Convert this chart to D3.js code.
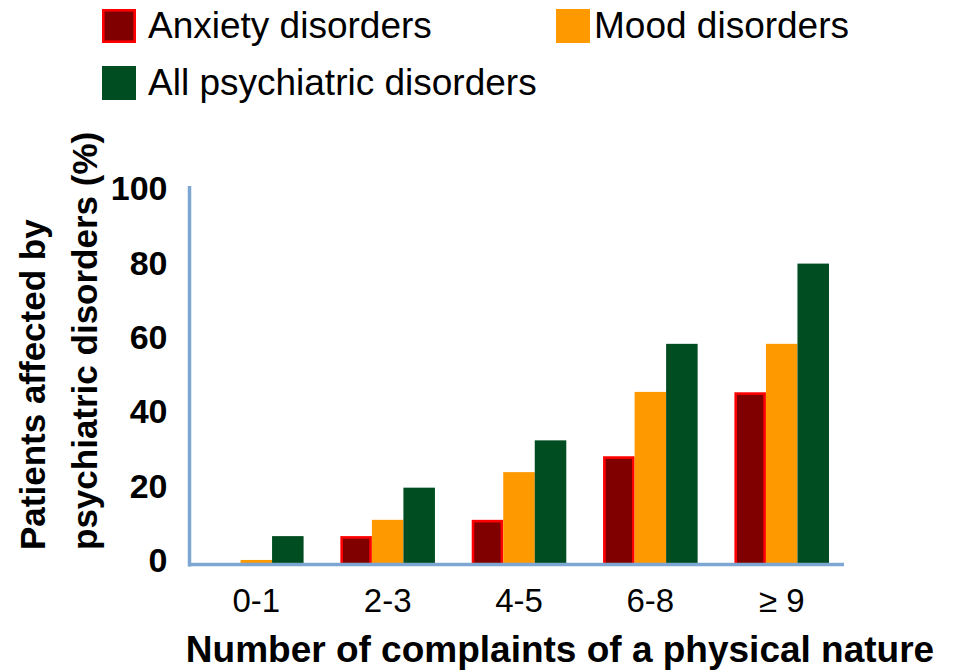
<!DOCTYPE html>
<html>
<head>
<meta charset="utf-8">
<script src="https://cdn.jsdelivr.net/npm/d3@7"></script>
<style>
  body { margin: 0; background: #fff; }
  text { font-family: "Liberation Sans", Arial, sans-serif; }
</style>
</head>
<body>
<script>
// Données
const categories = ['0-1', '2-3', '4-5', '6-8', '≥ 9'];
const anxiety = [0, 7.5, 11.8, 28.6, 45.5];
const mood = [1.2, 11.8, 24.4, 45.6, 58.3];
const allPsych = [7.5, 20.3, 32.8, 58.3, 79.5];
const yTicks = [0, 20, 40, 60, 80, 100];
const seriesNames = ['Anxiety disorders', 'Mood disorders', 'All psychiatric disorders'];

const series = [
  { key: 'anxiety', name: seriesNames[0], values: anxiety, fill: '#800000', stroke: '#ff0000' },
  { key: 'mood', name: seriesNames[1], values: mood, fill: '#ff9900', stroke: null },
  { key: 'all', name: seriesNames[2], values: allPsych, fill: '#004d21', stroke: null }
];

// Selection du body et ajout du svg
const svg = d3.select('body').append('svg').attr('width', 956).attr('height', 671);

// Echelles
const x0 = d3.scaleBand()
    .domain(categories)
    .range([188, 850])
    .paddingInner(0.28)
    .paddingOuter(0.16);

const x1 = d3.scaleBand()
    .domain(series.map(s => s.key))
    .range([0, x0.bandwidth()])
    .padding(0);

const y = d3.scaleLinear().domain([0, 100]).range([564.5, 186]);

// Les étiquettes de l'axe Y sont un peu resserrées dans l'original
const yLabel = d3.scaleLinear().domain([0, 100]).range([559.5, 188]);

// Barres
const groups = svg.append('g')
  .selectAll('g')
  .data(categories)
  .join('g')
    .attr('transform', d => `translate(${x0(d)},0)`);

groups.selectAll('rect')
  .data((d, i) => series.map(s => ({ s: s, v: s.values[i] })).filter(e => e.v > 0))
  .join('rect')
    .attr('x', d => x1(d.s.key) + (d.s.stroke ? 1.3 : 0))
    .attr('y', d => y(d.v) + (d.s.stroke ? 1.3 : 0))
    .attr('width', d => x1.bandwidth() - (d.s.stroke ? 2.6 : 0))
    .attr('height', d => y(0) - y(d.v) - (d.s.stroke ? 1.3 : 0))
    .style('fill', d => d.s.fill)
    .style('stroke', d => d.s.stroke || 'none')
    .style('stroke-width', 2.6);

// Axe Y (étiquettes seulement)
const yAxis = svg.append('g')
    .attr('transform', 'translate(189.5,0)')
    .call(d3.axisLeft(yLabel).tickValues(yTicks).tickSize(0).tickPadding(22));
yAxis.select('.domain').remove();
yAxis.selectAll('text')
    .attr('dy', '0.35em')
    .attr('font-size', 34)
    .attr('font-weight', 'bold')
    .attr('fill', '#000')
    .style('font-family', '"Liberation Sans", Arial, sans-serif');

// Axe X (étiquettes seulement)
const xAxis = svg.append('g')
    .attr('transform', 'translate(0,564.5)')
    .call(d3.axisBottom(x0).tickSize(0).tickPadding(24));
xAxis.select('.domain').remove();
xAxis.selectAll('text')
    .attr('dy', '0.71em')
    .attr('font-size', 33)
    .attr('fill', '#000')
    .style('font-family', '"Liberation Sans", Arial, sans-serif');

// Lignes des axes bleu clair
svg.append('line')
    .attr('x1', 189.5).attr('x2', 189.5)
    .attr('y1', y(100)).attr('y2', y(0) + 2)
    .style('stroke', '#7ea6d2')
    .style('stroke-width', 3.5);

svg.append('line')
    .attr('x1', 188).attr('x2', 844)
    .attr('y1', y(0)).attr('y2', y(0))
    .style('stroke', '#7ea6d2')
    .style('stroke-width', 3.5);

// Titre de l'axe X
svg.append('text')
    .attr('x', 560)
    .attr('y', 662)
    .attr('text-anchor', 'middle')
    .attr('font-size', 37)
    .attr('font-weight', 'bold')
    .text('Number of complaints of a physical nature');

// Titre de l'axe Y sur deux lignes
const yTitle = svg.append('text')
    .attr('transform', 'translate(0,550) rotate(-90)')
    .attr('font-size', 35)
    .attr('font-weight', 'bold');
yTitle.append('tspan').attr('x', 0).attr('y', 45).text('Patients affected by');
yTitle.append('tspan').attr('x', 0).attr('y', 97).text('psychiatric disorders (%)');

// Légende
const legendPos = [[102, 9], [556, 9], [102, 66]];
const legend = svg.append('g')
  .selectAll('g')
  .data(series)
  .join('g')
    .attr('transform', (d, i) => `translate(${legendPos[i][0]},${legendPos[i][1]})`);

legend.append('rect')
    .attr('x', d => d.stroke ? 1.3 : 0)
    .attr('y', d => d.stroke ? 1.3 : 0)
    .attr('width', d => d.stroke ? 31.4 : 34)
    .attr('height', d => d.stroke ? 31.4 : 34)
    .style('fill', d => d.fill)
    .style('stroke', d => d.stroke || 'none')
    .style('stroke-width', 2.6);

legend.append('text')
    .attr('x', (d, i) => i === 1 ? 38 : 46)
    .attr('y', 29)
    .attr('font-size', 37)
    .attr('fill', '#000')
    .text(d => d.name);
</script>
</body>
</html>
